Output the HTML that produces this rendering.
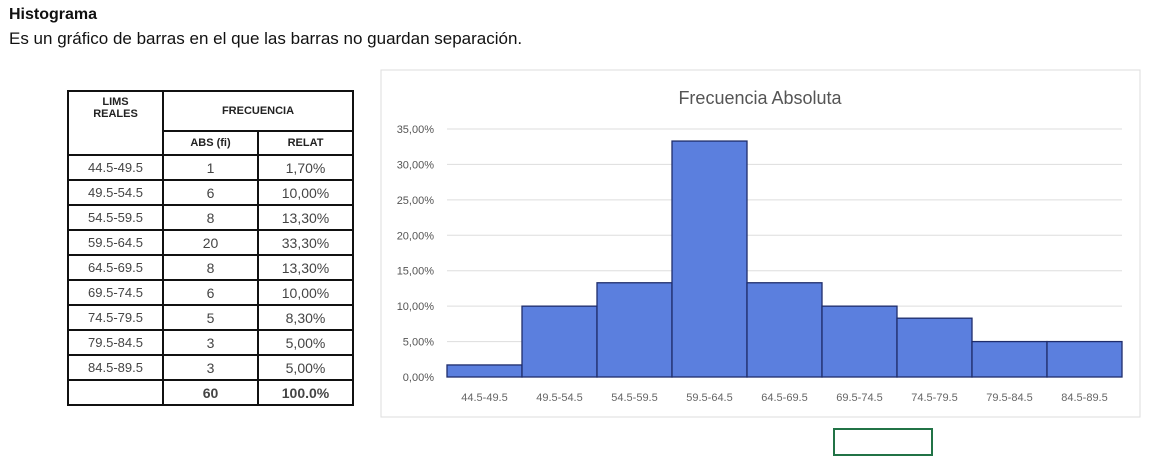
<!DOCTYPE html>
<html><head><meta charset="utf-8"><style>
body{margin:0;width:1162px;height:470px;background:#fff;position:relative;overflow:hidden;font-family:"Liberation Sans",sans-serif}
.h1{position:absolute;left:9px;top:6px;font-size:16px;font-weight:bold;color:#111}
.h2{position:absolute;left:9px;top:29px;font-size:17px;color:#111}
table{position:absolute;left:67px;top:90px;border-collapse:collapse;font-size:13px;color:#444}
td{border:2px solid #111;text-align:center;padding:0;height:23px}
th{border:2px solid #111;font-size:11px;font-weight:bold;color:#222}
</style></head><body>
<div class="h1">Histograma</div>
<div class="h2">Es un gráfico de barras en el que las barras no guardan separación.</div>
<table>
<tr style="height:40px"><th rowspan="2" style="width:91px;vertical-align:top;padding-top:4px">LIMS<br>REALES</th><th colspan="2">FRECUENCIA</th></tr>
<tr style="height:24px"><th style="width:91px">ABS (fi)</th><th style="width:91px">RELAT</th></tr>
<tbody id="tb"></tbody>
<tr><td></td><td style="font-weight:bold;font-size:14px">60</td><td style="font-weight:bold;font-size:14px">100.0%</td></tr>
</table>
<svg width="1162" height="470" style="position:absolute;left:0;top:0;pointer-events:none" id="svg">
<rect x="381" y="70" width="759" height="347" fill="#fff" stroke="#ddd"/>
<text x="760" y="104" text-anchor="middle" font-size="18" fill="#555" font-family="Liberation Sans,sans-serif">Frecuencia Absoluta</text>
<g id="g"></g>
<rect x="834" y="429" width="98" height="26" fill="none" stroke="#217346" stroke-width="2"/>
</svg>
<script>
const categories=["44.5-49.5","49.5-54.5","54.5-59.5","59.5-64.5","64.5-69.5","69.5-74.5","74.5-79.5","79.5-84.5","84.5-89.5"];
const absValues=[1,6,8,20,8,6,5,3,3];
const relValues=[1.7,10,13.3,33.3,13.3,10,8.3,5,5];
const relLabels=["1,70%","10,00%","13,30%","33,30%","13,30%","10,00%","8,30%","5,00%","5,00%"];
const yTicks=[0,5,10,15,20,25,30,35];
const tb=document.getElementById('tb');
categories.forEach((c,i)=>{const tr=document.createElement('tr');


tr.innerHTML='<td>'+c+'</td><td style="font-size:14px">'+absValues[i]+'</td><td style="font-size:14px">'+relLabels[i]+'</td>';tb.appendChild(tr);});
const NS="http://www.w3.org/2000/svg",g=document.getElementById('g');
const x0=447,x1=1122,y0=377,yTop=129;
const y=v=>y0-(v/35)*(y0-yTop);
const bw=(x1-x0)/categories.length;
function el(t,a){const e=document.createElementNS(NS,t);for(const k in a)e.setAttribute(k,a[k]);g.appendChild(e);return e;}
yTicks.forEach(t=>{const l=el('line',{x1:x0,x2:x1,y1:y(t),y2:y(t),stroke:'#ddd'});


const tx=el('text',{x:434,y:y(t)+4,'text-anchor':'end','font-size':11,fill:'#555','font-family':'Liberation Sans,sans-serif'});tx.textContent=t.toFixed(2).replace('.',',')+'%';

});
relValues.forEach((v,i)=>{const r=el('rect',{x:x0+i*bw,y:y(v),width:bw,height:y0-y(v),fill:'#5b7fde',stroke:'#1f2d6b','stroke-width':1.3});


const tx=el('text',{x:x0+i*bw+bw/2,y:401,'text-anchor':'middle','font-size':11,fill:'#666','font-family':'Liberation Sans,sans-serif'});tx.textContent=categories[i];

});
</script>
</body></html>
